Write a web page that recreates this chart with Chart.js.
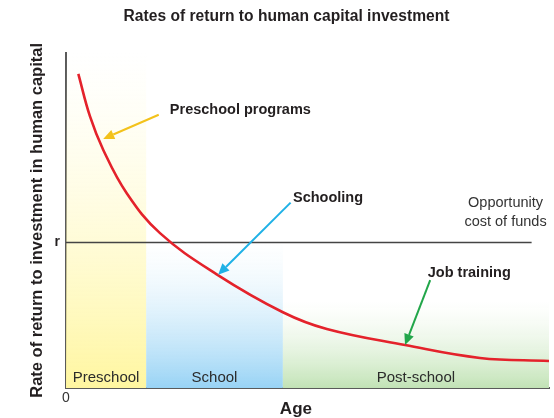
<!DOCTYPE html>
<html>
<head>
<meta charset="utf-8">
<script src="https://cdn.jsdelivr.net/npm/chart.js@4/dist/chart.umd.min.js"></script>
<style>
  html, body { margin: 0; padding: 0; background: #fff; }
  #wrap { width: 554px; height: 418px; }
</style>
</head>
<body>
<div id="wrap"><canvas id="c" width="554" height="418"></canvas></div>
<script>
// ---- data ----
const ageValues    = [2.55, 4.97, 7.72, 12.57, 19.46, 31.2, 44.9, 54.0, 70.2, 85.7, 100];
const returnValues = [93.7, 81.0, 71.0, 58.1, 46.2, 33.9, 22.6, 17.6, 12.8, 8.96, 8.06];
const rRate = 43.4;            // opportunity cost of funds
const rLineEnd = 96.4;         // age where the r line stops
const regionNames  = ['Preschool', 'School', 'Post-school'];
const regionStarts = [0, 16.6, 44.9];
const regionEnds   = [16.6, 44.9, 100];
const xTickLabels = ['0'];
const yTickLabels = ['r'];
// annotations: text, anchor (age, rate), arrow tail / tip (age, rate)
const noteTexts  = ['Preschool programs', 'Schooling', 'Job training'];
const noteX      = [21.5, 47.0, 74.9];
const noteY      = [82.8, 56.7, 34.3];
const arrowTailX = [19.2, 46.5, 75.4];
const arrowTailY = [81.5, 55.3, 32.2];
const arrowTipX  = [7.7, 31.5, 70.2];
const arrowTipY  = [74.3, 33.8, 12.8];
const oppLines = ['Opportunity', 'cost of funds'];
const oppX = 91.0;
const oppY = [55.2, 49.6];

// ---- styles ----
const regionColors = [
  ['rgba(255,246,160,1)', 'rgba(255,252,215,0)'],
  ['rgba(152,211,245,1)', 'rgba(225,243,252,0)'],
  ['rgba(194,227,182,1)', 'rgba(232,245,226,0)']
];
const regionFadeTop = [100, 44, 26];
const arrowColors = ['#f3c21b', '#1fb1e6', '#22a64a'];
const textColor = '#231f20';
const FONT = '"Liberation Sans", Arial, Helvetica, sans-serif';

const decorPlugin = {
  id: 'decor',
  beforeDatasetsDraw(chart) {
    const {ctx, scales: {x, y}} = chart;
    ctx.save();
    for (let i = 0; i < regionNames.length; i++) {
      const x0 = x.getPixelForValue(regionStarts[i]);
      const x1 = x.getPixelForValue(regionEnds[i]);
      const yb = y.getPixelForValue(0);
      const yt = y.getPixelForValue(regionFadeTop[i]);
      const g = ctx.createLinearGradient(0, yb, 0, yt);
      g.addColorStop(0, regionColors[i][0]);
      g.addColorStop(1, regionColors[i][1]);
      ctx.fillStyle = g;
      ctx.fillRect(x0, yt, x1 - x0, yb - yt);
    }
    ctx.fillStyle = '#2b2b2b';
    ctx.font = '15px ' + FONT;
    ctx.textAlign = 'center';
    ctx.textBaseline = 'middle';
    for (let i = 0; i < regionNames.length; i++) {
      const cx = (x.getPixelForValue(regionStarts[i]) + x.getPixelForValue(regionEnds[i])) / 2;
      ctx.fillText(regionNames[i], cx, y.getPixelForValue(3.0));
    }
    ctx.restore();
  },
  afterDatasetsDraw(chart) {
    const {ctx, scales: {x, y}} = chart;
    ctx.save();
    // arrows
    for (let i = 0; i < noteTexts.length; i++) {
      const tx = x.getPixelForValue(arrowTailX[i]), ty = y.getPixelForValue(arrowTailY[i]);
      const hx = x.getPixelForValue(arrowTipX[i]),  hy = y.getPixelForValue(arrowTipY[i]);
      const ang = Math.atan2(hy - ty, hx - tx);
      const L = 11, W = 5;
      const bx = hx - L * Math.cos(ang), by = hy - L * Math.sin(ang);
      ctx.strokeStyle = arrowColors[i];
      ctx.fillStyle = arrowColors[i];
      ctx.lineWidth = 2;
      ctx.beginPath();
      ctx.moveTo(tx, ty);
      ctx.lineTo(bx, by);
      ctx.stroke();
      ctx.beginPath();
      ctx.moveTo(hx, hy);
      ctx.lineTo(bx + W * Math.sin(ang), by - W * Math.cos(ang));
      ctx.lineTo(bx - W * Math.sin(ang), by + W * Math.cos(ang));
      ctx.closePath();
      ctx.fill();
    }
    // notes
    ctx.fillStyle = textColor;
    ctx.font = 'bold 14.5px ' + FONT;
    ctx.textAlign = 'left';
    ctx.textBaseline = 'middle';
    for (let i = 0; i < noteTexts.length; i++) {
      ctx.fillText(noteTexts[i], x.getPixelForValue(noteX[i]), y.getPixelForValue(noteY[i]));
    }
    ctx.font = '14.5px ' + FONT;
    ctx.textAlign = 'center';
    ctx.fillStyle = '#333';
    for (let i = 0; i < oppLines.length; i++) {
      ctx.fillText(oppLines[i], x.getPixelForValue(oppX), y.getPixelForValue(oppY[i]));
    }
    // x-axis title
    ctx.font = 'bold 17px ' + FONT;
    ctx.fillStyle = textColor;
    ctx.fillText('Age', x.getPixelForValue(47.6), 409);
    ctx.restore();
  }
};

new Chart(document.getElementById('c'), {
  type: 'line',
  data: {
    datasets: [
      {
        data: ageValues.map((a, i) => ({x: a, y: returnValues[i]})),
        borderColor: '#e4222b',
        borderWidth: 2.6,
        pointRadius: 0,
        tension: 0.4,
        fill: false
      },
      {
        data: [{x: 0, y: rRate}, {x: rLineEnd, y: rRate}],
        borderColor: '#444',
        borderWidth: 1.3,
        pointRadius: 0,
        fill: false
      }
    ]
  },
  plugins: [decorPlugin],
  options: {
    responsive: false,
    animation: false,
    events: [],
    layout: { padding: { left: 24, right: 5, top: 0, bottom: 0 } },
    plugins: {
      legend: { display: false },
      tooltip: { enabled: false },
      title: {
        display: true,
        text: 'Rates of return to human capital investment',
        color: textColor,
        font: { family: FONT, size: 15.6, weight: 'bold', lineHeight: 1.2 },
        padding: { top: 7, bottom: 27 }
      }
    },
    scales: {
      x: {
        type: 'linear',
        min: 0, max: 100,
        grid: { display: false, drawTicks: false },
        border: { display: true, color: '#5a5a5a', width: 2 },
        afterBuildTicks: s => { s.ticks = [{value: 0}]; },
        afterFit: s => { s.height = 30; },
        ticks: {
          callback: (v, i) => xTickLabels[i],
          color: '#333',
          font: { family: FONT, size: 14 },
          padding: 2,
          maxRotation: 0
        }
      },
      y: {
        type: 'linear',
        min: 0, max: 100,
        grid: { display: false, drawTicks: false },
        border: { display: true, color: '#5a5a5a', width: 2 },
        afterBuildTicks: s => { s.ticks = [{value: rRate}]; },
        afterFit: s => { s.width = 42; },
        ticks: {
          callback: (v, i) => yTickLabels[i],
          color: textColor,
          font: { family: FONT, size: 14, weight: 'bold' },
          padding: 6
        },
        title: {
          display: true,
          text: 'Rate of return to investment in human capital',
          color: textColor,
          font: { family: FONT, size: 16.5, weight: 'bold', lineHeight: 1.2 },
          padding: { top: 4, bottom: 4 }
        }
      }
    }
  }
});
</script>
</body>
</html>
